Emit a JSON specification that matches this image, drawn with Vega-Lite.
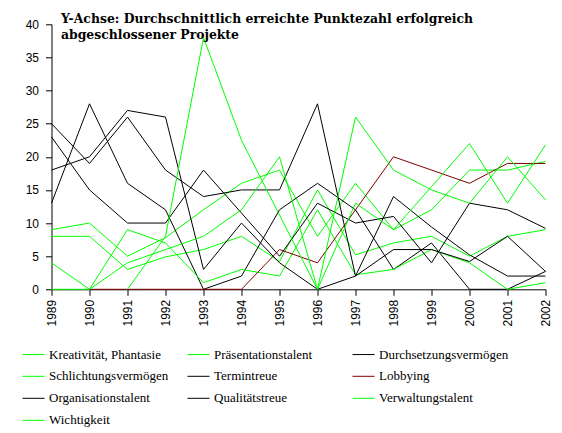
{
  "$schema": "https://vega.github.io/schema/vega-lite/v6.json",
  "description": "Durchschnittlich erreichte Punktezahl erfolgreich abgeschlossener Projekte, 1989-2002",
  "autosize": "none",
  "width": 494,
  "height": 265,
  "padding": {"left": 51.5, "top": 24.3, "right": 16.5, "bottom": 143.7},
  "background": "white",
  "config": {
    "view": {"stroke": null},
    "axis": {"grid": false, "domainColor": "black", "tickColor": "black", "labelColor": "black", "labelFont": "Liberation Sans", "labelFontSize": 12, "tickSize": 6, "title": null}
  },
  "title": {
    "text": ["Y-Achse: Durchschnittlich erreichte Punktezahl erfolgreich", "abgeschlossener Projekte"],
    "font": "DejaVu Serif",
    "fontWeight": "bold",
    "fontSize": 12.4,
    "color": "black",
    "anchor": "start",
    "frame": "group",
    "baseline": "top",
    "lineHeight": 16,
    "dx": 9.5,
    "dy": 27
  },
  "data": {
    "values": [
      {"s": "Kreativität, Phantasie", "j": 1989, "v": 9}, {"s": "Kreativität, Phantasie", "j": 1990, "v": 10}, {"s": "Kreativität, Phantasie", "j": 1991, "v": 5}, {"s": "Kreativität, Phantasie", "j": 1992, "v": 7.8}, {"s": "Kreativität, Phantasie", "j": 1993, "v": 12}, {"s": "Kreativität, Phantasie", "j": 1994, "v": 16}, {"s": "Kreativität, Phantasie", "j": 1995, "v": 18}, {"s": "Kreativität, Phantasie", "j": 1996, "v": 8}, {"s": "Kreativität, Phantasie", "j": 1997, "v": 16}, {"s": "Kreativität, Phantasie", "j": 1998, "v": 9}, {"s": "Kreativität, Phantasie", "j": 1999, "v": 12}, {"s": "Kreativität, Phantasie", "j": 2000, "v": 18}, {"s": "Kreativität, Phantasie", "j": 2001, "v": 18}, {"s": "Kreativität, Phantasie", "j": 2002, "v": 19.3},
      {"s": "Präsentationstalent", "j": 1989, "v": 8}, {"s": "Präsentationstalent", "j": 1990, "v": 8}, {"s": "Präsentationstalent", "j": 1991, "v": 3}, {"s": "Präsentationstalent", "j": 1992, "v": 4.9}, {"s": "Präsentationstalent", "j": 1993, "v": 6}, {"s": "Präsentationstalent", "j": 1994, "v": 8}, {"s": "Präsentationstalent", "j": 1995, "v": 4.2}, {"s": "Präsentationstalent", "j": 1996, "v": 15}, {"s": "Präsentationstalent", "j": 1997, "v": 5.2}, {"s": "Präsentationstalent", "j": 1998, "v": 7}, {"s": "Präsentationstalent", "j": 1999, "v": 8}, {"s": "Präsentationstalent", "j": 2000, "v": 5}, {"s": "Präsentationstalent", "j": 2001, "v": 8}, {"s": "Präsentationstalent", "j": 2002, "v": 9},
      {"s": "Durchsetzungsvermögen", "j": 1989, "v": 13}, {"s": "Durchsetzungsvermögen", "j": 1990, "v": 28}, {"s": "Durchsetzungsvermögen", "j": 1991, "v": 16}, {"s": "Durchsetzungsvermögen", "j": 1992, "v": 12}, {"s": "Durchsetzungsvermögen", "j": 1993, "v": 0}, {"s": "Durchsetzungsvermögen", "j": 1994, "v": 2}, {"s": "Durchsetzungsvermögen", "j": 1995, "v": 12}, {"s": "Durchsetzungsvermögen", "j": 1996, "v": 16}, {"s": "Durchsetzungsvermögen", "j": 1997, "v": 12}, {"s": "Durchsetzungsvermögen", "j": 1998, "v": 3}, {"s": "Durchsetzungsvermögen", "j": 1999, "v": 7}, {"s": "Durchsetzungsvermögen", "j": 2000, "v": 0}, {"s": "Durchsetzungsvermögen", "j": 2001, "v": 0}, {"s": "Durchsetzungsvermögen", "j": 2002, "v": 2.7},
      {"s": "Schlichtungsvermögen", "j": 1989, "v": 4}, {"s": "Schlichtungsvermögen", "j": 1990, "v": 0}, {"s": "Schlichtungsvermögen", "j": 1991, "v": 9}, {"s": "Schlichtungsvermögen", "j": 1992, "v": 7}, {"s": "Schlichtungsvermögen", "j": 1993, "v": 1}, {"s": "Schlichtungsvermögen", "j": 1994, "v": 3}, {"s": "Schlichtungsvermögen", "j": 1995, "v": 2}, {"s": "Schlichtungsvermögen", "j": 1996, "v": 12}, {"s": "Schlichtungsvermögen", "j": 1997, "v": 2.2}, {"s": "Schlichtungsvermögen", "j": 1998, "v": 3}, {"s": "Schlichtungsvermögen", "j": 1999, "v": 6}, {"s": "Schlichtungsvermögen", "j": 2000, "v": 4}, {"s": "Schlichtungsvermögen", "j": 2001, "v": 0}, {"s": "Schlichtungsvermögen", "j": 2002, "v": 1},
      {"s": "Termintreue", "j": 1989, "v": 25}, {"s": "Termintreue", "j": 1990, "v": 19}, {"s": "Termintreue", "j": 1991, "v": 26}, {"s": "Termintreue", "j": 1992, "v": 18}, {"s": "Termintreue", "j": 1993, "v": 14}, {"s": "Termintreue", "j": 1994, "v": 15}, {"s": "Termintreue", "j": 1995, "v": 15}, {"s": "Termintreue", "j": 1996, "v": 28}, {"s": "Termintreue", "j": 1997, "v": 2}, {"s": "Termintreue", "j": 1998, "v": 14}, {"s": "Termintreue", "j": 1999, "v": 9.4}, {"s": "Termintreue", "j": 2000, "v": 5.2}, {"s": "Termintreue", "j": 2001, "v": 2}, {"s": "Termintreue", "j": 2002, "v": 2},
      {"s": "Lobbying", "j": 1990, "v": 0}, {"s": "Lobbying", "j": 1991, "v": 0}, {"s": "Lobbying", "j": 1992, "v": 0}, {"s": "Lobbying", "j": 1993, "v": 0}, {"s": "Lobbying", "j": 1994, "v": 0}, {"s": "Lobbying", "j": 1995, "v": 6}, {"s": "Lobbying", "j": 1996, "v": 4}, {"s": "Lobbying", "j": 1997, "v": 12}, {"s": "Lobbying", "j": 1998, "v": 20}, {"s": "Lobbying", "j": 1999, "v": 18}, {"s": "Lobbying", "j": 2000, "v": 16}, {"s": "Lobbying", "j": 2001, "v": 19}, {"s": "Lobbying", "j": 2002, "v": 19},
      {"s": "Organisationstalent", "j": 1989, "v": 18}, {"s": "Organisationstalent", "j": 1990, "v": 20}, {"s": "Organisationstalent", "j": 1991, "v": 27}, {"s": "Organisationstalent", "j": 1992, "v": 26}, {"s": "Organisationstalent", "j": 1993, "v": 3}, {"s": "Organisationstalent", "j": 1994, "v": 10}, {"s": "Organisationstalent", "j": 1995, "v": 4}, {"s": "Organisationstalent", "j": 1996, "v": 0}, {"s": "Organisationstalent", "j": 1997, "v": 2}, {"s": "Organisationstalent", "j": 1998, "v": 6}, {"s": "Organisationstalent", "j": 1999, "v": 6}, {"s": "Organisationstalent", "j": 2000, "v": 4.2}, {"s": "Organisationstalent", "j": 2001, "v": 8}, {"s": "Organisationstalent", "j": 2002, "v": 2.7},
      {"s": "Qualitätstreue", "j": 1989, "v": 23}, {"s": "Qualitätstreue", "j": 1990, "v": 15}, {"s": "Qualitätstreue", "j": 1991, "v": 10}, {"s": "Qualitätstreue", "j": 1992, "v": 10}, {"s": "Qualitätstreue", "j": 1993, "v": 18}, {"s": "Qualitätstreue", "j": 1994, "v": 11.5}, {"s": "Qualitätstreue", "j": 1995, "v": 5}, {"s": "Qualitätstreue", "j": 1996, "v": 13}, {"s": "Qualitätstreue", "j": 1997, "v": 10}, {"s": "Qualitätstreue", "j": 1998, "v": 11}, {"s": "Qualitätstreue", "j": 1999, "v": 4}, {"s": "Qualitätstreue", "j": 2000, "v": 13}, {"s": "Qualitätstreue", "j": 2001, "v": 12}, {"s": "Qualitätstreue", "j": 2002, "v": 9.2},
      {"s": "Verwaltungstalent", "j": 1989, "v": 0}, {"s": "Verwaltungstalent", "j": 1990, "v": 0}, {"s": "Verwaltungstalent", "j": 1991, "v": 4}, {"s": "Verwaltungstalent", "j": 1992, "v": 6}, {"s": "Verwaltungstalent", "j": 1993, "v": 8}, {"s": "Verwaltungstalent", "j": 1994, "v": 12}, {"s": "Verwaltungstalent", "j": 1995, "v": 20}, {"s": "Verwaltungstalent", "j": 1996, "v": 0}, {"s": "Verwaltungstalent", "j": 1997, "v": 13}, {"s": "Verwaltungstalent", "j": 1998, "v": 9}, {"s": "Verwaltungstalent", "j": 1999, "v": 15.5}, {"s": "Verwaltungstalent", "j": 2000, "v": 22}, {"s": "Verwaltungstalent", "j": 2001, "v": 13}, {"s": "Verwaltungstalent", "j": 2002, "v": 21.8},
      {"s": "Wichtigkeit", "j": 1991, "v": 0}, {"s": "Wichtigkeit", "j": 1992, "v": 8}, {"s": "Wichtigkeit", "j": 1993, "v": 38}, {"s": "Wichtigkeit", "j": 1994, "v": 22.5}, {"s": "Wichtigkeit", "j": 1995, "v": 11.2}, {"s": "Wichtigkeit", "j": 1996, "v": 0}, {"s": "Wichtigkeit", "j": 1997, "v": 26}, {"s": "Wichtigkeit", "j": 1998, "v": 18}, {"s": "Wichtigkeit", "j": 1999, "v": 15}, {"s": "Wichtigkeit", "j": 2000, "v": 13}, {"s": "Wichtigkeit", "j": 2001, "v": 20}, {"s": "Wichtigkeit", "j": 2002, "v": 13.5}
    ]
  },
  "mark": {"type": "line", "strokeWidth": 1},
  "encoding": {
    "x": {
      "field": "j",
      "type": "quantitative",
      "scale": {"domain": [1989, 2002], "nice": false, "zero": false},
      "axis": {"values": [1989, 1990, 1991, 1992, 1993, 1994, 1995, 1996, 1997, 1998, 1999, 2000, 2001, 2002], "format": "d", "labelAngle": -90, "labelPadding": 4, "labelFlush": false, "labelOverlap": false}
    },
    "y": {
      "field": "v",
      "type": "quantitative",
      "scale": {"domain": [0, 40], "nice": false},
      "axis": {"values": [0, 5, 10, 15, 20, 25, 30, 35, 40], "labelPadding": 7}
    },
    "color": {
      "field": "s",
      "type": "nominal",
      "scale": {
        "domain": ["Kreativität, Phantasie", "Präsentationstalent", "Durchsetzungsvermögen", "Schlichtungsvermögen", "Termintreue", "Lobbying", "Organisationstalent", "Qualitätstreue", "Verwaltungstalent", "Wichtigkeit"],
        "range": ["#00ff00", "#00ff00", "#000000", "#00ff00", "#000000", "#800000", "#000000", "#000000", "#00ff00", "#00ff00"]
      },
      "legend": {
        "title": null,
        "orient": "none",
        "legendX": -29.5,
        "legendY": 318.5,
        "columns": 3,
        "direction": "horizontal",
        "gridAlign": "all",
        "columnPadding": 6,
        "rowPadding": 3,
        "symbolType": "stroke",
        "symbolSize": 484,
        "symbolStrokeWidth": 1,
        "labelFont": "Liberation Serif",
        "labelFontSize": 13,
        "labelColor": "black",
        "labelOffset": 4,
        "labelLimit": 0
      }
    }
  }
}
